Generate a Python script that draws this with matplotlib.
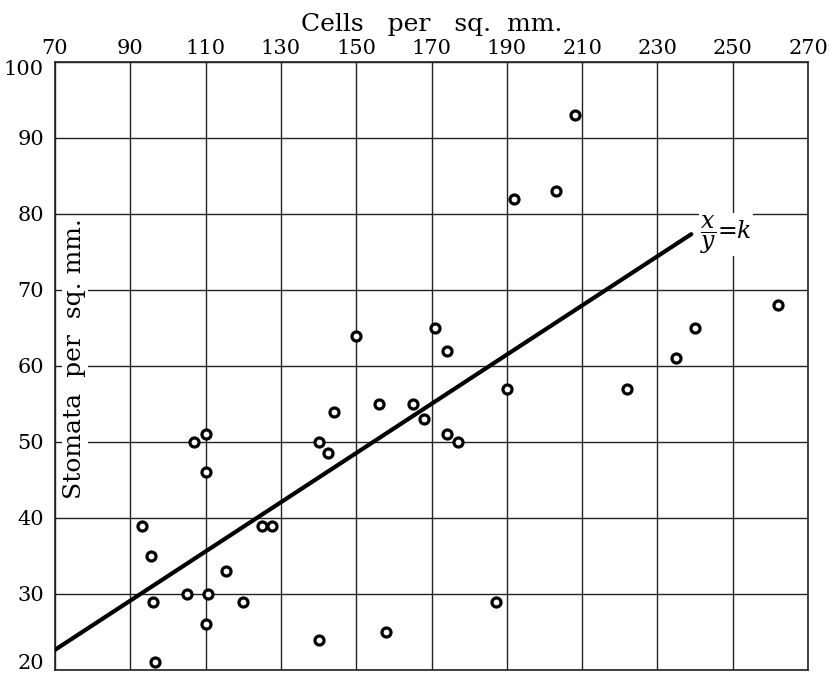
import numpy as np
import matplotlib.pyplot as plt
from matplotlib.transforms import ScaledTranslation

# data
cells = [93, 95.5, 96, 96.5, 105, 107, 110, 110, 110.5, 110, 115.5, 120, 125, 127.5,
         140, 140, 142.5, 144, 150, 156, 158, 165, 168, 171, 174, 174, 177, 187,
         190, 192, 203, 208, 222, 235, 240, 262]
stomata = [39, 35, 29, 21, 30, 50, 51, 46, 30, 26, 33, 29, 39, 39,
           24, 50, 48.5, 54, 64, 55, 25, 55, 53, 65, 62, 51, 50, 29,
           57, 82, 83, 93, 57, 61, 65, 68]
k = 3.09
line_x = [70, 239]

xticks = list(range(70, 271, 20))
yticks = list(range(20, 101, 10))

plt.rcParams['font.family'] = ['DejaVu Serif']
plt.rcParams['mathtext.fontset'] = 'dejavuserif'

fig = plt.figure(figsize=(8.3, 6.79), dpi=100)
ax = fig.add_axes([0.0663, 0.0133, 0.9072, 0.8954])

ax.set_xlim(70, 270)
ax.set_ylim(20, 100)
ax.set_xticks(xticks)
ax.set_yticks(yticks)
ax.xaxis.tick_top()
ax.tick_params(length=0, labelsize=15, pad=3)
ax.tick_params(axis='y', pad=8)
ax.grid(True, color='#222222', linewidth=1.0)
ax.set_axisbelow(True)
for s in ax.spines.values():
    s.set_linewidth(1.2)
    s.set_color('#222222')

# nudge the end labels of the y axis, as in the print
ylabs = ax.get_yticklabels()
ylabs[0].set_transform(ylabs[0].get_transform() + ScaledTranslation(0, 6 / 72, fig.dpi_scale_trans))
ylabs[-1].set_transform(ylabs[-1].get_transform() + ScaledTranslation(0, -4 / 72, fig.dpi_scale_trans))

# x/y = k line
lx = np.array(line_x)
ax.plot(lx, lx / k, color='black', linewidth=3.0, solid_capstyle='round', zorder=3)

ax.plot(cells, stomata, 'o', markersize=6.5, markerfacecolor='white',
        markeredgecolor='black', markeredgewidth=2.3, zorder=4)

ax.set_title('Cells   per   sq.  mm.', fontsize=18, pad=22)

ax.text(75.2, 61, 'Stomata  per  sq. mm.', rotation=90, fontsize=18,
        ha='center', va='center', zorder=5,
        bbox=dict(facecolor='white', edgecolor='none', pad=1.0))
ax.text(241.3, 77.3, r'$\dfrac{x}{y}$=$k$', fontsize=17, ha='left', va='center', zorder=5,
        bbox=dict(facecolor='white', edgecolor='none', pad=0.5))

fig.savefig('out.png', dpi=100)
